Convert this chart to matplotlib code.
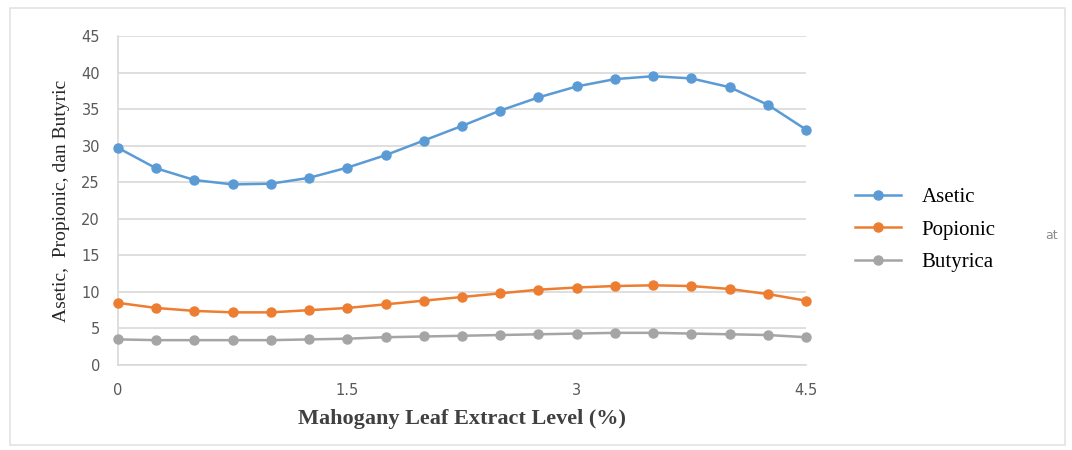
import matplotlib

matplotlib.use("Agg")
import matplotlib.pyplot as plt
from matplotlib.patches import Rectangle

# --- data --------------------------------------------------------------------
levels = [0, 0.25, 0.5, 0.75, 1.0, 1.25, 1.5, 1.75, 2.0, 2.25, 2.5, 2.75,
          3.0, 3.25, 3.5, 3.75, 4.0, 4.25, 4.5]
asetic = [29.7, 26.9, 25.3, 24.7, 24.8, 25.6, 27.0, 28.7, 30.7, 32.7, 34.8,
          36.6, 38.1, 39.1, 39.5, 39.2, 38.0, 35.6, 32.2]
popionic = [8.5, 7.8, 7.4, 7.2, 7.2, 7.5, 7.8, 8.3, 8.8, 9.3, 9.8, 10.3,
            10.6, 10.8, 10.9, 10.8, 10.4, 9.7, 8.8]
butyrica = [3.5, 3.4, 3.4, 3.4, 3.4, 3.5, 3.6, 3.8, 3.9, 4.0, 4.1, 4.2,
            4.3, 4.4, 4.4, 4.3, 4.2, 4.1, 3.8]
series_names = ["Asetic", "Popionic", "Butyrica"]
xticks = [0, 1.5, 3, 4.5]
xtick_labels = ["0", "1.5", "3", "4.5"]
yticks = list(range(0, 50, 5))

C_BLUE = "#5B9BD5"
C_ORANGE = "#ED7D31"
C_GRAY = "#A5A5A5"
GRID = "#D9D9D9"
TICK = "#595959"
SERIF = ["Liberation Serif", "DejaVu Serif"]

fig = plt.figure(figsize=(10.72, 4.5), dpi=100)
fig.patch.set_facecolor("white")
fig.add_artist(Rectangle((10 / 1072, 5 / 450), 1055 / 1072, 437 / 450,
                         transform=fig.transFigure, fill=False,
                         edgecolor="#E3E3E3", linewidth=1.2))

ax = fig.add_axes([118 / 1072, 1 - 365 / 450, 688 / 1072, 329 / 450])

handles = []
for vals, col, name in zip([asetic, popionic, butyrica],
                           [C_BLUE, C_ORANGE, C_GRAY], series_names):
    (h,) = ax.plot(levels, vals, color=col, lw=1.8, marker="o", ms=6.5,
                   markeredgecolor=col, label=name, zorder=3, clip_on=False)
    handles.append(h)

ax.set_xlim(0, 4.5)
ax.set_ylim(0, 45)
ax.set_xticks(xticks)
ax.set_xticklabels(xtick_labels)
ax.set_yticks(yticks)
ax.tick_params(axis="both", length=0, labelsize=10.5, colors=TICK)
ax.tick_params(axis="x", pad=13)
ax.tick_params(axis="y", pad=13)
ax.grid(axis="y", color=GRID, linewidth=1.2, zorder=0)
ax.set_axisbelow(True)
for s in ("top", "right"):
    ax.spines[s].set_visible(False)
for s in ("left", "bottom"):
    ax.spines[s].set_color(GRID)
    ax.spines[s].set_linewidth(1.2)

ax.set_xlabel("Mahogany Leaf Extract Level (%)", fontsize=16,
              family=SERIF, weight="bold", color="#404040", labelpad=8)
ax.set_ylabel("Asetic,  Propionic, dan Butyric", fontsize=14,
              family=SERIF, color="#262626", labelpad=8)

fig.legend(handles=handles, loc="center left",
           bbox_to_anchor=(855 / 1072, 1 - 230 / 450), frameon=False,
           prop={"family": SERIF, "size": 15}, handlelength=2.2,
           handletextpad=1.0, labelspacing=0.62, borderpad=0,
           borderaxespad=0)

fig.text(1045 / 1072, 1 - 235 / 450, "at", fontsize=9, color="#8C8C8C",
         ha="left", va="center")

fig.savefig("out.png", dpi=100, facecolor="white")
